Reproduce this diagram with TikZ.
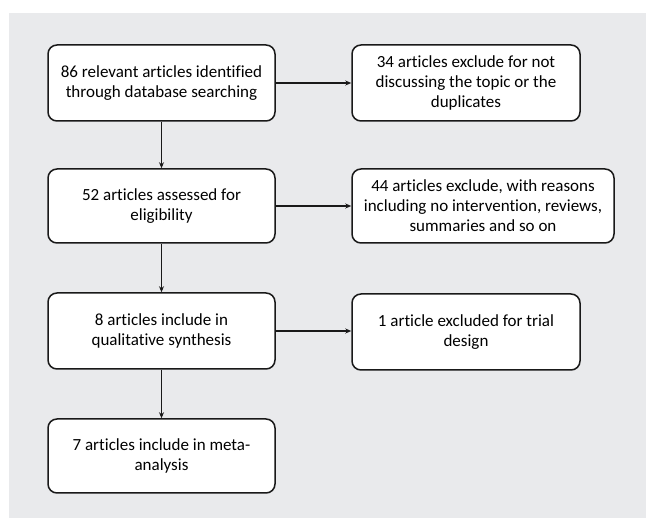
\documentclass[tikz,border=0pt]{standalone}
\usepackage{fontspec}
\setmainfont[Ligatures=NoCommon]{Carlito}
\usetikzlibrary{arrows.meta}
\definecolor{bggray}{RGB}{233,234,236}
\definecolor{edge}{RGB}{25,25,25}
\begin{document}
\begin{tikzpicture}[x=1pt,y=-1pt,
  flowbox/.style={draw=edge,line width=1.5pt,fill=white,rounded corners=9pt,
    align=center,inner sep=0pt,font=\fontsize{17}{20}\selectfont},
  flowarrow/.style={draw=edge,line width=1.1pt,-{Stealth[length=6pt,width=5pt]}}]
\useasboundingbox (0,0) rectangle (646,518);
\fill[white] (0,0) rectangle (646,518);
\fill[bggray] (9,13) rectangle (646,518);
\node[flowbox,minimum width=227pt,minimum height=76pt] (a) at (161.5,83)
  {86 relevant articles identified\\through database searching};
\node[flowbox,minimum width=228pt,minimum height=76pt] (ra) at (466,83)
  {34 articles exclude for not\\discussing the topic or the\\duplicates};
\node[flowbox,minimum width=227pt,minimum height=74pt] (b) at (161.5,206)
  {52 articles assessed for\\eligibility};
\node[flowbox,minimum width=262pt,minimum height=74pt] (rb) at (483,206)
  {44 articles exclude, with reasons\\including no intervention, reviews,\\summaries and so on};
\node[flowbox,minimum width=227pt,minimum height=76pt] (c) at (161.5,331)
  {8 articles include in\\qualitative synthesis};
\node[flowbox,minimum width=228pt,minimum height=76pt] (rc) at (466,332)
  {1 article excluded for trial\\design};
\node[flowbox,minimum width=227pt,minimum height=74pt] (d) at (161.5,456)
  {7 articles include in meta-\\analysis};
\draw[flowarrow] (a) -- (ra);
\draw[flowarrow] (b) -- (rb);
\draw[flowarrow] (c.east) -- (c.east -| rc.west);
\draw[flowarrow] (a) -- (b);
\draw[flowarrow] (b) -- (c);
\draw[flowarrow] (c) -- (d);
\end{tikzpicture}
\end{document}
